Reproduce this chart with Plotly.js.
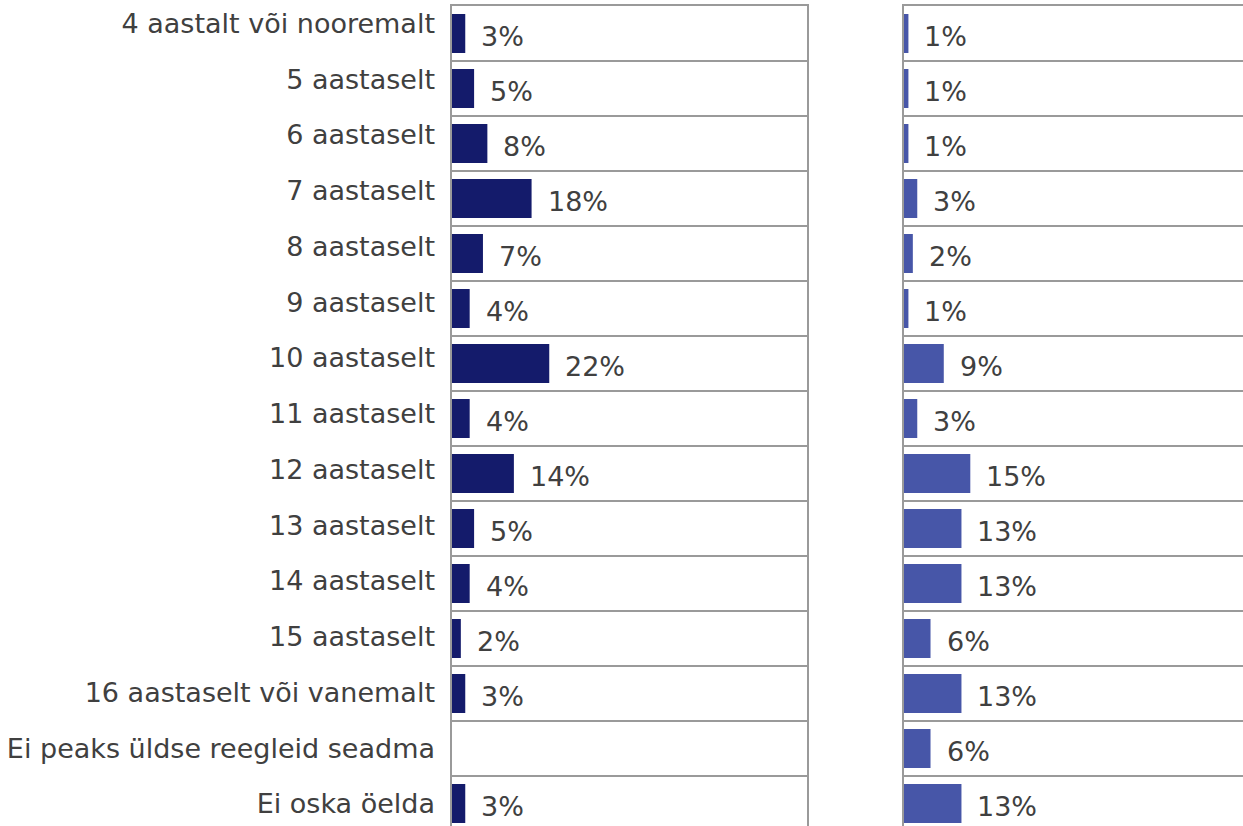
<!DOCTYPE html>
<html>
<head>
<meta charset="utf-8">
<script src="https://cdn.plot.ly/plotly-3.0.1.min.js"></script>
<style>html,body{margin:0;padding:0;background:#fff;}#chart{width:1243px;height:826px;}</style>
</head>
<body>
<div id="chart"></div>
<script>
// ---- data ----
const categories = [
  "4 aastalt või nooremalt",
  "5 aastaselt",
  "6 aastaselt",
  "7 aastaselt",
  "8 aastaselt",
  "9 aastaselt",
  "10 aastaselt",
  "11 aastaselt",
  "12 aastaselt",
  "13 aastaselt",
  "14 aastaselt",
  "15 aastaselt",
  "16 aastaselt või vanemalt",
  "Ei peaks üldse reegleid seadma",
  "Ei oska öelda"
];
const leftValues  = [3, 5, 8, 18, 7, 4, 22, 4, 14, 5, 4, 2, 3, null, 3];
const rightValues = [1, 1, 1, 3, 2, 1, 9, 3, 15, 13, 13, 6, 13, 6, 13];

// ---- styling ----
const W = 1243, H = 826;
const leftColor = "#141B6B";
const rightColor = "#4756A8";
const gridColor = "#9a9a9a";
const textColor = "#404040";
const fontFamily = "DejaVu Sans, Verdana, sans-serif";
const fontSize = 27;

const idx = categories.map((_, i) => i);
const boundaries = [-0.5].concat(idx.map(i => i + 0.5));

const yDomain = [0, (H - 6) / H];
const yRange = [14.409, -0.5];
const labelRange = [14.395, -0.314];

const traces = [
  {type: "bar", orientation: "h", x: leftValues, y: idx, xaxis: "x", yaxis: "y",
   marker: {color: leftColor, line: {width: 0}}, width: 0.71, hoverinfo: "skip"},
  {type: "bar", orientation: "h", x: rightValues, y: idx, xaxis: "x2", yaxis: "y2",
   marker: {color: rightColor, line: {width: 0}}, width: 0.71, hoverinfo: "skip"},
  {type: "scatter", mode: "markers", x: idx.map(() => 0), y: idx, xaxis: "x", yaxis: "y3",
   marker: {opacity: 0, size: 1}, hoverinfo: "skip"}
];

const annotations = [];
function addLabels(vals, xref, yref) {
  vals.forEach((v, i) => {
    if (v === null) return;
    annotations.push({x: v, y: i, xref: xref, yref: yref, text: v + "%", showarrow: false,
      xanchor: "left", yanchor: "middle", xshift: 14, yshift: -3,
      font: {family: fontFamily, size: fontSize, color: textColor}});
  });
}
addLabels(leftValues, "x", "y");
addLabels(rightValues, "x2", "y2");

const rowAxis = (anchor) => ({
  anchor: anchor, domain: yDomain, range: yRange, type: "linear",
  tickmode: "array", tickvals: boundaries, showticklabels: false, ticks: "",
  showgrid: true, gridcolor: gridColor, gridwidth: 2, zeroline: false,
  showline: true, mirror: true, linecolor: gridColor, linewidth: 2
});

const valueAxis = (domain, range) => ({
  domain: domain, range: range, side: "top", showline: true, linecolor: gridColor,
  linewidth: 2, showticklabels: false, ticks: "", showgrid: false, zeroline: false,
  fixedrange: true
});

const layout = {
  width: W, height: H,
  margin: {l: 0, r: 0, t: 0, b: 0},
  paper_bgcolor: "#ffffff", plot_bgcolor: "rgba(0,0,0,0)",
  showlegend: false, bargap: 0.29,
  xaxis: Object.assign(valueAxis([452 / W, 807 / W], [0, 80.3]), {anchor: "y"}),
  xaxis2: Object.assign(valueAxis([904 / W, 1], [0, 76.7]), {anchor: "y2"}),
  yaxis: rowAxis("x"),
  yaxis2: rowAxis("x2"),
  yaxis3: {anchor: "x", overlaying: "y", side: "left", domain: yDomain, range: labelRange,
    type: "linear", tickmode: "array", tickvals: idx, ticktext: categories, ticks: "",
    showgrid: false, zeroline: false, showline: false, ticklabelstandoff: 16,
    tickfont: {family: fontFamily, size: fontSize, color: textColor}},
  annotations: annotations,
  font: {family: fontFamily, color: textColor}
};

Plotly.newPlot("chart", traces, layout, {displayModeBar: false, staticPlot: true});
</script>
</body>
</html>
